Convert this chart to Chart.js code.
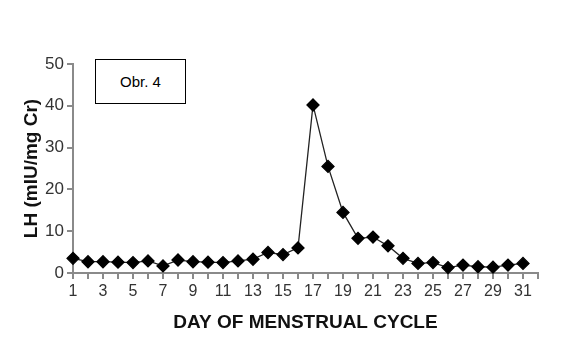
<!DOCTYPE html>
<html><head><meta charset="utf-8">
<script src="https://cdn.jsdelivr.net/npm/chart.js@4"></script>
<style>
html,body{margin:0;padding:0;background:#fff;}
#wrap{position:relative;width:564px;height:357px;}
#obr{position:absolute;left:95px;top:59px;width:89px;height:43px;border:1px solid #000;box-sizing:content-box;font-family:"Liberation Sans",Arial,sans-serif;font-size:15px;color:#000;display:flex;align-items:center;justify-content:center;background:#fff;}
</style></head>
<body>
<div id="wrap"><canvas id="c" width="564" height="357"></canvas><div id="obr">Obr. 4</div></div>
<script>
const days = [1,2,3,4,5,6,7,8,9,10,11,12,13,14,15,16,17,18,19,20,21,22,23,24,25,26,27,28,29,30,31];
const lhValues = [3.5,2.7,2.7,2.6,2.5,2.9,1.7,3.1,2.7,2.6,2.5,2.9,3.3,4.9,4.4,6.0,40.2,25.5,14.5,8.3,8.6,6.5,3.5,2.3,2.5,1.3,1.9,1.5,1.4,1.9,2.3];
const yTicks = [0,10,20,30,40,50];
const xTitle = "DAY OF MENSTRUAL CYCLE";
const yTitle = "LH (mIU/mg Cr)";

const axisGray = '#8a8a8a';
const fam = '"Liberation Sans", Arial, sans-serif';
const tickFont = {family:fam, size:16};
new Chart(document.getElementById('c'), {
  type:'line',
  data:{datasets:[{
    data: days.map((d,i)=>({x:d,y:lhValues[i]})),
    borderColor:'#222', borderWidth:1.3, clip:false,
    pointStyle:'rectRot', pointRadius:6, pointBackgroundColor:'#000', pointBorderColor:'#000',
    tension:0
  }]},
  options:{
    responsive:false, animation:false,
    layout:{padding:{left:16,right:26,top:64,bottom:19}},
    plugins:{legend:{display:false},tooltip:{enabled:false}},
    scales:{
      x:{type:'linear',min:1,max:32,
        afterBuildTicks:s=>{s.ticks=[];for(let i=1;i<=32;i++)s.ticks.push({value:i});},
        afterFit:s=>{s.height=65;},
        grid:{drawOnChartArea:false,drawTicks:true,tickLength:6,color:axisGray,lineWidth:2},
        border:{color:axisGray,width:2},
        ticks:{autoSkip:false,maxRotation:0,padding:3,color:'#333',font:tickFont,
          callback:v=>(v%2===1&&v<=31)?String(v):''},
        title:{display:true,text:xTitle,color:'#111',font:{family:fam,size:19,weight:'bold'},padding:{top:2,bottom:4}}
      },
      y:{min:0,max:50,
        afterBuildTicks:s=>{s.ticks=yTicks.map(v=>({value:v}));},
        afterFit:s=>{s.width=57;},
        grid:{drawOnChartArea:false,drawTicks:true,tickLength:6,color:axisGray,lineWidth:2},
        border:{color:axisGray,width:2},
        ticks:{padding:3,color:'#333',font:{family:fam,size:17}},
        title:{display:true,text:yTitle,color:'#111',font:{family:fam,size:19,weight:'bold'},padding:{top:4,bottom:4}}
      }
    }
  }
});
</script>
</body></html>
